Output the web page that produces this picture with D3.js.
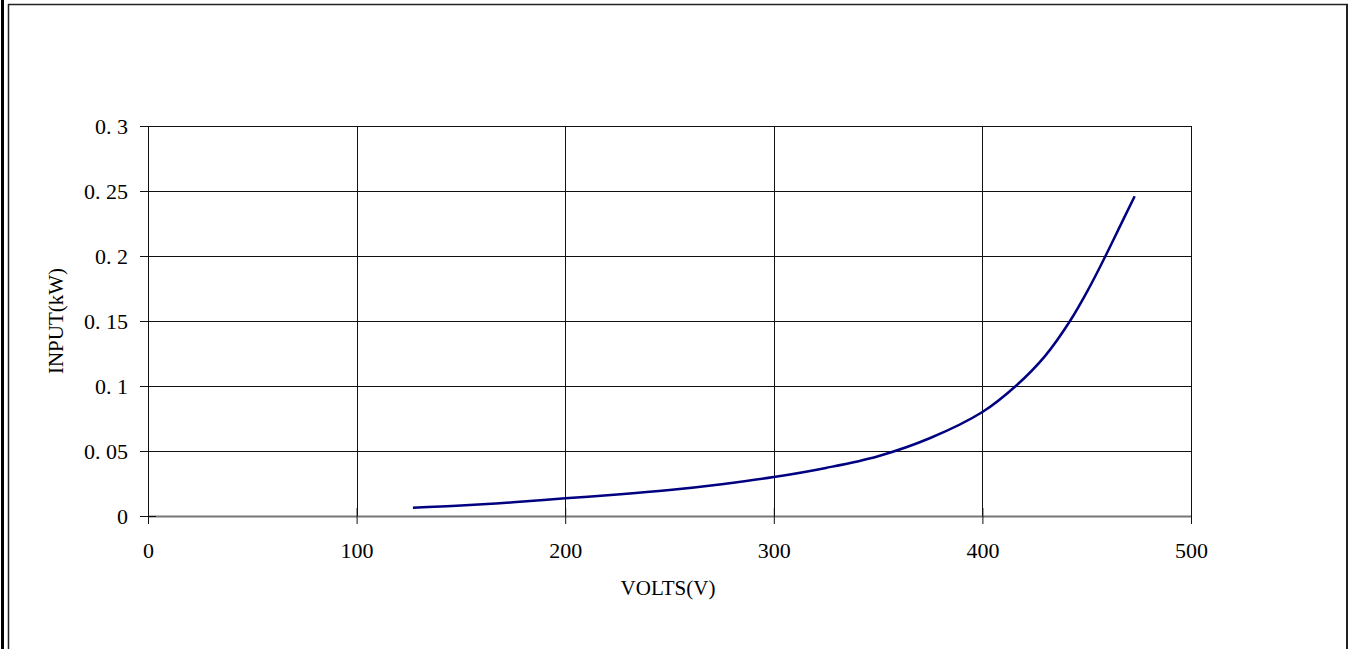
<!DOCTYPE html>
<html><head><meta charset="utf-8">
<script src="https://cdn.jsdelivr.net/npm/d3@7"></script>
<style>body{margin:0;background:#fff}svg{display:block}</style>
</head><body>
<svg id="c" width="1354" height="649"></svg>
<script>
const volts = [127, 150, 175, 200, 225, 250, 275, 300, 325, 350, 375, 400, 416, 430, 442, 451, 459, 466, 473];
const inputKW = [0.0064, 0.008, 0.0105, 0.0136, 0.0165, 0.020, 0.0245, 0.030, 0.037, 0.046, 0.060, 0.080, 0.100, 0.123, 0.150, 0.175, 0.200, 0.223, 0.246];
const xTicks = [0, 100, 200, 300, 400, 500];
const xTickLabels = ["0", "100", "200", "300", "400", "500"];
const yTicks = [0, 0.05, 0.1, 0.15, 0.2, 0.25, 0.3];
const yTickLabels = ["0", "0. 05", "0. 1", "0. 15", "0. 2", "0. 25", "0. 3"];
const xTitle = "VOLTS(V)";
const yTitle = "INPUT(kW)";

const svg = d3.select("#c");
const L = 148, R = 1191, T = 126, B = 516;
const x = d3.scaleLinear().domain([0, 500]).range([L, R]);
const y = d3.scaleLinear().domain([0, 0.3]).range([B, T]);
const font = "'Liberation Serif', 'Times New Roman', serif";

// frame
svg.append("rect").attr("x", 1).attr("y", 0).attr("width", 3).attr("height", 649).attr("fill", "#000");
svg.append("line").attr("x1", 8.5).attr("x2", 8.5).attr("y1", 4).attr("y2", 649).attr("stroke", "#222").attr("stroke-width", 1.5);
svg.append("line").attr("x1", 8).attr("x2", 1348).attr("y1", 4.5).attr("y2", 4.5).attr("stroke", "#222").attr("stroke-width", 1.5);
svg.append("line").attr("x1", 1347).attr("x2", 1347).attr("y1", 4).attr("y2", 649).attr("stroke", "#222").attr("stroke-width", 2);

// gridlines
const g = svg.append("g");
g.selectAll("line.h").data(yTicks.slice(1)).join("line")
  .attr("x1", L).attr("x2", R).attr("y1", d => Math.round(y(d)) + 0.5).attr("y2", d => Math.round(y(d)) + 0.5)
  .attr("stroke", "#111").attr("stroke-width", 1);
g.selectAll("line.v").data(xTicks.slice(1)).join("line")
  .attr("y1", T).attr("y2", B).attr("x1", d => Math.round(x(d)) + 0.5).attr("x2", d => Math.round(x(d)) + 0.5)
  .attr("stroke", "#111").attr("stroke-width", 1);

// axes
const xAxis = d3.axisBottom(x).tickValues(xTicks).tickFormat((d, i) => xTickLabels[i]).tickSizeInner(8).tickSizeOuter(0).tickPadding(18);
const yAxis = d3.axisLeft(y).tickValues(yTicks).tickFormat((d, i) => yTickLabels[i]).tickSizeInner(8).tickSizeOuter(0).tickPadding(12);
const gx = svg.append("g").attr("transform", `translate(0,${B})`).call(xAxis);
const gy = svg.append("g").attr("transform", `translate(${L},0)`).call(yAxis);
[gx, gy].forEach(a => {
  a.selectAll("text").attr("font-family", font).attr("font-size", 22).attr("fill", "#000");
  a.selectAll("line").attr("stroke", "#111");
});
gx.select(".domain").attr("stroke", "#777").attr("stroke-width", 2);
gy.select(".domain").attr("stroke", "#111");
// cross ticks
gx.selectAll(".tick line").attr("y1", -8).attr("y2", 8);
gy.selectAll(".tick line").attr("x1", -8).attr("x2", 8);
gx.selectAll(".tick text").attr("y", 0).attr("dy", 0).attr("transform", "translate(0,42)");

// titles
svg.append("text").attr("x", 668).attr("y", 595).attr("text-anchor", "middle")
  .attr("font-family", font).attr("font-size", 21).text(xTitle);
svg.append("text").attr("transform", "translate(63,321) rotate(-90)").attr("text-anchor", "middle")
  .attr("font-family", font).attr("font-size", 21).text(yTitle);

// curve
const pts = volts.map((v, i) => [v, inputKW[i]]);
svg.append("path").datum(pts)
  .attr("d", d3.line().x(d => x(d[0])).y(d => y(d[1])).curve(d3.curveCatmullRom.alpha(0.5)))
  .attr("fill", "none").attr("stroke", "#000080").attr("stroke-width", 2.5);
</script>
</body></html>
